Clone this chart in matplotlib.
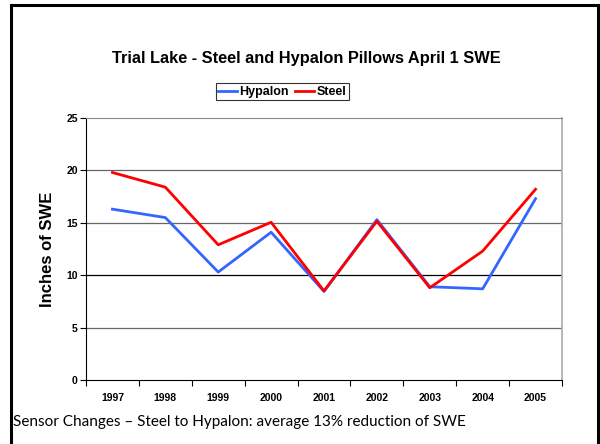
import matplotlib
matplotlib.use("Agg")
import matplotlib.pyplot as plt
from matplotlib.patches import Rectangle
import numpy as np

plt.rcParams['font.family'] = ['Liberation Sans', 'DejaVu Sans']

years = ['1997', '1998', '1999', '2000', '2001', '2002', '2003', '2004', '2005']
hypalon = [16.3, 15.5, 10.3, 14.1, 8.45, 15.3, 8.9, 8.7, 17.3]
steel = [19.8, 18.4, 12.9, 15.05, 8.5, 15.15, 8.8, 12.3, 18.2]

fig = plt.figure(figsize=(6, 4.44), dpi=100)
W, H = 600, 444

# outer slide frame (open at the bottom)
fig.patches.append(Rectangle((11 / W, -0.05), 587 / W, 1.05 - 5 / H, transform=fig.transFigure,
                             fill=False, edgecolor='black', linewidth=2.2, clip_on=False))

ax = fig.add_axes([86 / W, 1 - 380 / H, (562 - 86) / W, (380 - 118) / H])
x = np.arange(len(years))
ax.plot(x, hypalon, color='#3366ff', linewidth=2, label='Hypalon')
ax.plot(x, steel, color='#ff0000', linewidth=2, label='Steel')

ax.set_xlim(-0.5, len(years) - 0.5)
ax.set_ylim(0, 25)
ax.set_yticks([0, 5, 10, 15, 20, 25])
for v in [5, 10, 15, 20]:
    ax.axhline(v, color='black' if v == 10 else '#666666', linewidth=0.9, zorder=0)

ax.set_xticks(x)
ax.set_xticklabels(years, fontsize=7.5, fontweight='bold')
ax.set_xticks(np.arange(len(years) + 1) - 0.5, minor=True)
ax.tick_params(axis='x', which='major', length=0, pad=9)
ax.tick_params(axis='x', which='minor', length=4, direction='out', width=0.8)
ax.tick_params(axis='y', length=4, direction='out', width=0.8, labelsize=7.5, pad=2)
for lab in ax.get_yticklabels():
    lab.set_fontweight('bold')

ax.spines['left'].set_color('black')
ax.spines['bottom'].set_color('black')
ax.spines['top'].set_color('#888888')
ax.spines['right'].set_color('#aaaaaa')
ax.spines['right'].set_linewidth(1.2)

ax.set_ylabel('Inches of SWE', fontsize=12, fontweight='bold', labelpad=8)

fig.text(306 / W, 1 - 59 / H, 'Trial Lake - Steel and Hypalon Pillows April 1 SWE',
         ha='center', va='center', fontsize=11.8, fontweight='bold')

leg = fig.legend(loc='center', bbox_to_anchor=(282 / W, 1 - 92 / H), ncol=2,
                 prop={'size': 9, 'weight': 'bold'}, frameon=True, fancybox=False,
                 handlelength=1.5, handletextpad=0.2, columnspacing=0.5,
                 borderpad=0.2, borderaxespad=0)
leg.get_frame().set_edgecolor('black')
leg.get_frame().set_linewidth(0.8)

fig.text(13 / W, 1 - 422 / H, 'Sensor Changes \u2013 Steel to Hypalon: average 13% reduction of SWE',
         ha='left', va='center', fontsize=11, family=['Lato', 'DejaVu Sans'])

fig.savefig('out.png', dpi=100)
